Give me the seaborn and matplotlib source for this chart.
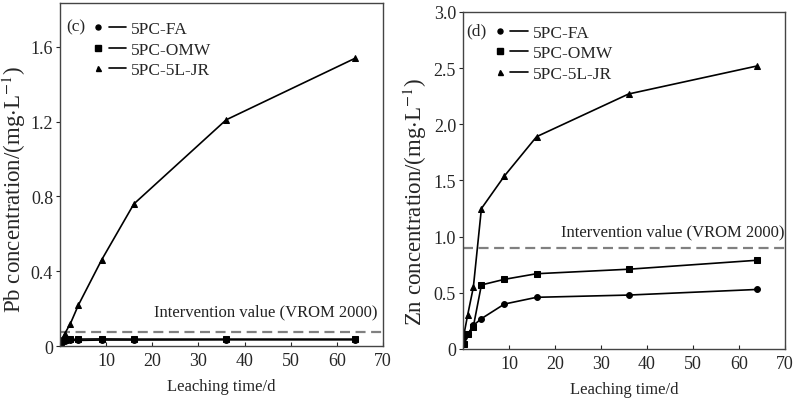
import numpy as np
import pandas as pd
import seaborn as sns
import matplotlib.pyplot as plt
from matplotlib.lines import Line2D
from matplotlib.legend_handler import HandlerTuple

sns.set_style("ticks")
plt.rcParams["font.family"] = ["Liberation Serif", "DejaVu Serif"]
plt.rcParams["mathtext.fontset"] = "stix"

# Leaching times (days) and measured concentrations
time_d = [0.25, 1, 2.25, 4, 9, 16, 36, 64]
samples = ["5PC-FA", "5PC-OMW", "5PC-5L-JR"]

pb_fa = [0.02, 0.025, 0.03, 0.03, 0.032, 0.032, 0.033, 0.033]
pb_omw = [0.02, 0.03, 0.035, 0.037, 0.038, 0.037, 0.037, 0.037]
pb_jr = [0.03, 0.065, 0.12, 0.22, 0.46, 0.76, 1.21, 1.54]

zn_fa = [0.11, 0.13, 0.21, 0.27, 0.40, 0.46, 0.48, 0.53]
zn_omw = [0.04, 0.13, 0.20, 0.57, 0.62, 0.67, 0.71, 0.79]
zn_jr = [0.14, 0.30, 0.55, 1.25, 1.54, 1.89, 2.27, 2.52]

pb_limit = 0.075
zn_limit = 0.9


def long_df(series):
    rows = []
    for name, vals in zip(samples, series):
        for t, v in zip(time_d, vals):
            rows.append({"time": t, "conc": v, "sample": name})
    return pd.DataFrame(rows)


markers = {"5PC-FA": "o", "5PC-OMW": "s", "5PC-5L-JR": "^"}
msize = {"5PC-FA": 4.2, "5PC-OMW": 4.6, "5PC-5L-JR": 4.2}

fig = plt.figure(figsize=(7.95, 4.02), dpi=100)
ax1 = fig.add_axes([0.0755, 0.1368, 0.4063, 0.8532])
ax2 = fig.add_axes([0.5824, 0.1294, 0.4050, 0.8383])

panels = [
    (ax1, long_df([pb_fa, pb_omw, pb_jr]), pb_limit, "(c)", "Pb",
     [0, 0.4, 0.8, 1.2, 1.6], ["0", "0.4", "0.8", "1.2", "1.6"], 1.835,
     (68.7, 0.187), (0.05, 0.933), (0.092, 0.948), (-0.099, 0.458)),
    (ax2, long_df([zn_fa, zn_omw, zn_jr]), zn_limit, "(d)", "Zn",
     [0, 0.5, 1.0, 1.5, 2.0, 2.5, 3.0], ["0", "0.5", "1.0", "1.5", "2.0", "2.5", "3.0"], 3.0,
     (70, 1.05), (0.04, 0.944), (0.088, 0.963), (-0.106, 0.44)),
]

for ax, df, limit, tag, metal, yt, ytl, ytop, txtpos, tagpos, legpos, ylpos in panels:
    for name in samples:
        sub = df[df["sample"] == name]
        sns.lineplot(data=sub, x="time", y="conc", ax=ax, color="black",
                     marker=markers[name], markersize=msize[name],
                     markeredgecolor="black", linewidth=1.2, legend=False)
    ax.axhline(limit, color="#808080", linestyle=(0, (4.5, 2.5)), linewidth=1.6, zorder=1)
    ax.text(txtpos[0], txtpos[1], "Intervention value (VROM 2000)", ha="right",
            va="center", fontsize=12, color="#222222")
    ax.text(tagpos[0], tagpos[1], tag, transform=ax.transAxes, ha="center",
            va="center", fontsize=12.5)

    ax.set_xlim(0, 70)
    ax.set_ylim(0, ytop)
    ax.set_xticks(range(0, 71, 10))
    ax.set_xticklabels([""] + [str(v) for v in range(10, 71, 10)])
    ax.set_yticks(yt)
    ax.set_yticklabels(ytl)
    ax.tick_params(axis="x", direction="in", length=3, labelsize=13, pad=4)
    ax.tick_params(axis="y", direction="out", length=3, labelsize=13, pad=2)
    for sp in ax.spines.values():
        sp.set_visible(True)
        sp.set_color("#444444")
        sp.set_linewidth(1.0)
    ax.set_xlabel("Leaching time/d", fontsize=12, labelpad=7)
    ax.set_ylabel(metal + r" concentration/(mg$\cdot$L$^{-1}$)", fontsize=16.5)
    ax.yaxis.set_label_coords(ylpos[0], ylpos[1])

    handles = []
    for name in samples:
        mk = Line2D([], [], marker=markers[name], color="black", linestyle="none",
                    markersize=msize[name] - 0.6)
        ln = Line2D([], [], color="black", linewidth=1.2)
        handles.append((mk, ln))
    ax.legend(handles, samples, handler_map={tuple: HandlerTuple(ndivide=None, pad=0.1)},
              loc="upper left", bbox_to_anchor=legpos, frameon=False, fontsize=12.5,
              handlelength=2.1, handletextpad=0.3, labelspacing=0.26,
              borderpad=0, borderaxespad=0)

fig.savefig("out.png", dpi=100)
